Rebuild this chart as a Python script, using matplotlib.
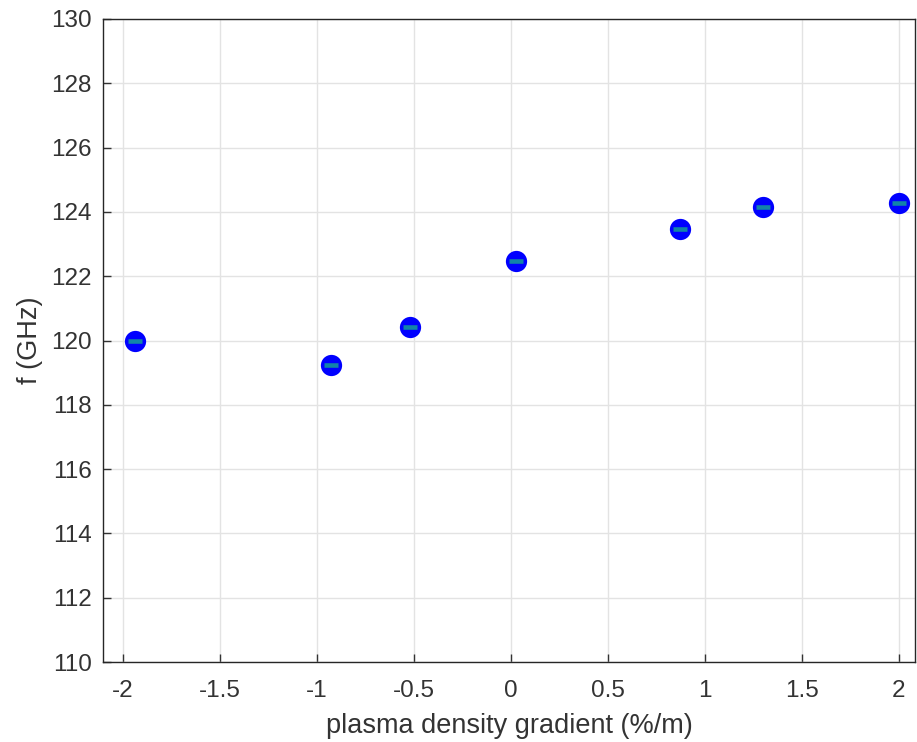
import matplotlib
matplotlib.use('Agg')
import matplotlib.pyplot as plt

# data
gradient = [-1.94, -0.93, -0.52, 0.025, 0.87, 1.30, 2.0]
freq = [119.98, 119.24, 120.42, 122.46, 123.46, 124.14, 124.28]

xticks = [-2, -1.5, -1, -0.5, 0, 0.5, 1, 1.5, 2]
xticklabels = ['-2', '-1.5', '-1', '-0.5', '0', '0.5', '1', '1.5', '2']
yticks = list(range(110, 131, 2))

plt.rcParams['font.family'] = ['Liberation Sans', 'DejaVu Sans']

fig = plt.figure(figsize=(9.17, 7.42), dpi=100)
ax = fig.add_axes([0.1123, 0.1078, 0.886, 0.8666])

ax.plot(gradient, freq, 'o', color='#0000ff', markersize=15.3, markeredgewidth=0, zorder=3)
ax.plot(gradient, freq, '_', color='#1284a8', markersize=10.5, markeredgewidth=3.3, zorder=4)

ax.set_xlim(-2.104, 2.085)
ax.set_ylim(110, 130)
ax.set_xticks(xticks)
ax.set_xticklabels(xticklabels)
ax.set_yticks(yticks)

ax.grid(True, color='#e3e3e3', linewidth=1)
ax.set_axisbelow(True)
ax.tick_params(direction='in', length=6, width=1, colors='#333333', labelsize=17.5)
ax.tick_params(axis='x', pad=13)
ax.tick_params(axis='y', pad=8)
for s in ax.spines.values():
    s.set_color('#262626')
    s.set_linewidth(1)

ax.set_xlabel('plasma density gradient (%/m)', fontsize=19.5, color='#333333', labelpad=8)
ax.set_ylabel('f (GHz)', fontsize=19.5, color='#333333', labelpad=6)

fig.savefig('out.png', dpi=100)
